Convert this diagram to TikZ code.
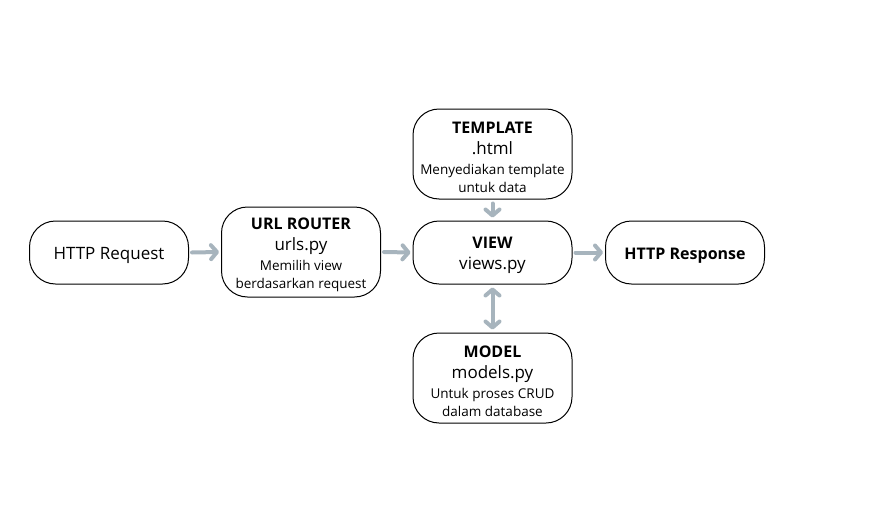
\documentclass[tikz,border=0pt]{standalone}
\usepackage{fontspec}
\setmainfont{Open Sans}
\usetikzlibrary{arrows.meta}
\definecolor{flowgray}{HTML}{A7B4BD}
\newcommand{\boxstrut}{\rule{0pt}{17.5pt}}
\newcommand{\boxtitle}[1]{{\fontsize{16}{20}\selectfont\bfseries\boxstrut #1}}
\newcommand{\boxfile}[1]{{\fontsize{17}{20}\selectfont #1}}
\tikzset{
  box/.style={draw, line width=1pt, rounded corners=26pt, minimum width=159pt,
    inner sep=0pt, align=center, font=\fontsize{13.5}{18}\selectfont},
  flow/.style={flowgray, line width=4pt, line cap=round,
    -{Straight Barb[length=6pt,width=14pt,line cap=round,line join=round]}},
  flowboth/.style={flow, {Straight Barb[length=6pt,width=14pt,line cap=round,line join=round]}-{Straight Barb[length=6pt,width=14pt,line cap=round,line join=round]}}
}
\begin{document}
\begin{tikzpicture}[x=1pt,y=-1pt]
\useasboundingbox (0,0) rectangle (871,525);
%boxes
\node[box, minimum height=63pt] (request) at (109,252.5) {\fontsize{17}{20}\selectfont\boxstrut HTTP Request};
\node[box, minimum height=90pt] (router) at (301,252) {\boxtitle{URL ROUTER}\\[3pt] \boxfile{urls.py}\\[2pt] Memilih view\\ berdasarkan request};
\node[box, minimum height=63pt] (view) at (492.5,252.5) {\boxtitle{VIEW}\\[3pt] \boxfile{views.py}};
\node[box, minimum height=63pt] (response) at (685,252.5) {\fontsize{16}{20}\selectfont\bfseries\boxstrut HTTP Response};
\node[box, minimum height=90pt] (template) at (492.5,154) {\boxtitle{TEMPLATE}\\[3pt] \boxfile{.html}\\[2pt] Menyediakan template\\ untuk data};
\node[box, minimum height=90pt] (model) at (492.5,378) {\boxtitle{MODEL}\\[3pt] \boxfile{models.py}\\[2pt] Untuk proses CRUD\\ dalam database};
%arrows
\draw[flow] ([xshift=3pt]request.east) -- ([xshift=-2pt]router.west);
\draw[flow] ([xshift=3pt]router.east) -- ([xshift=-2pt]view.west);
\draw[flow] ([xshift=3pt]view.east) -- ([xshift=-2pt]response.west);
\draw[flow] ([yshift=-4pt]template.south) -- ([yshift=3pt]view.north);
\draw[flowboth] ([yshift=-3pt]view.south) -- ([yshift=3pt]model.north);
\end{tikzpicture}
\end{document}
